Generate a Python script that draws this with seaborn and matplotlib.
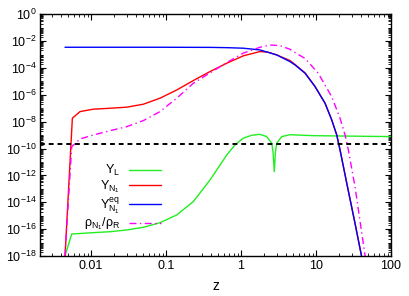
import numpy as np
import pandas as pd
import matplotlib
matplotlib.use("Agg")
import matplotlib.pyplot as plt
from matplotlib.ticker import FixedLocator, LogLocator, NullFormatter, LogFormatterMathtext
import seaborn as sns

# values (y given as log10)
z_L = [0.0045, 0.00553, 0.0107, 0.0179, 0.0299, 0.0498, 0.0832, 0.139, 0.231, 0.386, 0.645,
       0.832, 1.07, 1.39, 1.79, 2.20, 2.57, 2.67, 2.78, 2.88, 2.99, 3.49, 4.5, 9.2, 100]
logy_L = [-18, -16.36, -16.26, -16.19, -16.06, -15.86, -15.52, -14.94, -13.95, -12.34, -10.48,
          -9.73, -9.23, -9.01, -8.94, -9.11, -9.61, -10.25, -11.72, -10.25, -9.61, -9.11,
          -8.97, -9.04, -9.11]

z_N1 = [0.0045, 0.00564, 0.00713, 0.0107, 0.0179, 0.0299, 0.0498, 0.0832, 0.139, 0.231, 0.386,
        0.645, 1.07, 1.79, 2.31, 2.99, 4.5, 5.25, 7.13, 9.7, 13.2, 16.2, 18.9, 20.9, 25.7,
        33.1, 40.6, 43.7]
logy_N1 = [-18, -7.74, -7.25, -7.07, -7.00, -6.92, -6.70, -6.25, -5.64, -4.94, -4.27,
           -3.65, -3.10, -2.78, -2.83, -3.03, -3.45, -3.74, -4.36, -5.37, -6.62, -7.86, -8.98,
           -10.09, -12.57, -15.55, -18.04, -19.03]

z_eq = [0.0045, 0.1, 0.4, 0.645, 1.07, 1.79, 2.99, 4.5, 5.25, 7.13, 9.7, 13.2, 16.2, 18.9,
        20.9, 25.7, 33.1, 40.6, 43.7]
logy_eq = [-2.46, -2.46, -2.47, -2.49, -2.53, -2.66, -3.03, -3.53, -3.78, -4.39, -5.39, -6.63,
           -7.87, -8.99, -10.10, -12.58, -15.56, -18.05, -19.04]

z_rho = [0.0045, 0.00553, 0.00713, 0.0107, 0.0179, 0.0299, 0.0498, 0.0832, 0.139, 0.231,
         0.386, 0.645, 1.07, 1.79, 2.44, 3.31, 4.5, 5.5, 7.13, 10.7, 16.2, 20.9, 24.4, 27.0,
         33.1, 45, 47.9]
logy_rho = [-18, -9.86, -9.29, -8.99, -8.67, -8.37, -7.92, -7.25, -6.25, -5.14,
            -4.37, -3.60, -2.90, -2.46, -2.29, -2.34, -2.61, -2.92, -3.29, -4.39, -6.14, -7.74,
            -8.99, -10.10, -12.84, -17.92, -19.04]

y_obs = 2.3e-10

labels = [r"$Y_L$", r"$Y_{N_1}$", r"$Y^{eq}_{N_1}$", r"$\rho_{N_1}/\rho_R$"]
colors = ["#22ee22", "#ff0000", "#0000ff", "#ff00ff"]

sns.set_style("ticks")
plt.rcParams["font.family"] = ["Liberation Sans", "DejaVu Sans"]
plt.rcParams.update({
    "font.size": 9,
    "mathtext.fontset": "custom",
    "mathtext.rm": "Liberation Sans",
    "mathtext.it": "Liberation Sans",
    "mathtext.default": "regular",
    "axes.unicode_minus": False,
    "axes.edgecolor": "black",
    "axes.labelcolor": "black",
    "text.color": "black",
    "xtick.color": "black",
    "ytick.color": "black",
    "xtick.direction": "in",
    "ytick.direction": "in",
    "xtick.top": True,
    "ytick.right": True,
})

fig = plt.figure(figsize=(4.09, 2.96), dpi=100)
ax = fig.add_axes([0.099, 0.135, 0.857, 0.817])

series = [(z_L, logy_L), (z_N1, logy_N1), (z_eq, logy_eq), (z_rho, logy_rho)]
for (z, ly), lab, col in zip(series, labels, colors):
    df = pd.DataFrame({"z": z, "Y": 10.0 ** np.array(ly)})
    kw = {}
    if lab.startswith(r"$\rho"):
        kw["dashes"] = (5, 2.5, 1, 2.5)
    sns.lineplot(data=df, x="z", y="Y", ax=ax, color=col, lw=1.0, label=lab,
                 sort=False, estimator=None, **kw)

ax.axhline(y_obs, color="black", lw=1.4, dashes=(2.5, 2))

ax.set_xscale("log")
ax.set_yscale("log")
ax.set_xlim(0.00212, 100)
ax.set_ylim(1e-18, 1)

ax.xaxis.set_major_locator(FixedLocator([0.01, 0.1, 1, 10, 100]))
ax.set_xticklabels(["0.01", "0.1", "1", "10", "100"])
ax.xaxis.set_minor_locator(LogLocator(base=10, subs=np.arange(2, 10), numticks=100))
ax.xaxis.set_minor_formatter(NullFormatter())
ax.yaxis.set_major_locator(FixedLocator([10.0 ** k for k in range(-18, 1, 2)]))
ax.yaxis.set_major_formatter(LogFormatterMathtext())
ax.yaxis.set_minor_locator(LogLocator(base=10, subs=np.arange(1, 10), numticks=100))
ax.yaxis.set_minor_formatter(NullFormatter())
ax.tick_params(which="major", length=4, width=0.8, labelsize=9, pad=3)
ax.tick_params(which="minor", length=2, width=0.6)
for s in ax.spines.values():
    s.set_linewidth(1.0)

ax.set_xlabel("z", fontsize=10, labelpad=5)
ax.set_ylabel("")

handles, labs = ax.get_legend_handles_labels()
ax.legend(handles, labs, loc="upper right", bbox_to_anchor=(0.345, 0.385),
          markerfirst=False, frameon=False, handlelength=2.6, handletextpad=0.7,
          labelspacing=0.02, borderpad=0, borderaxespad=0, fontsize=9)

fig.savefig("out.png", dpi=100)
